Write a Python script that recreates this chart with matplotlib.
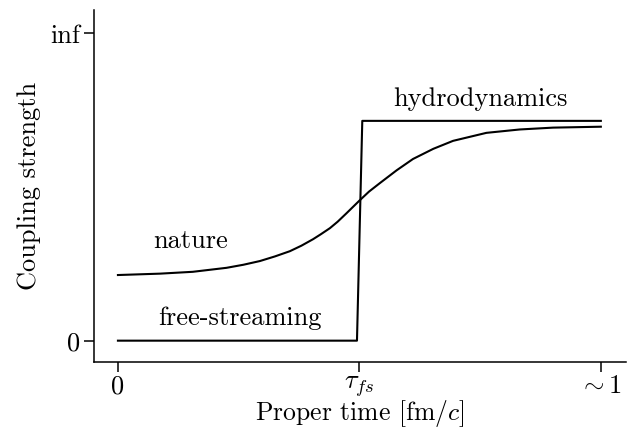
import matplotlib
matplotlib.use('Agg')
import matplotlib.pyplot as plt

plt.rcParams['font.family'] = 'cmr10'
plt.rcParams['mathtext.fontset'] = 'cm'
plt.rcParams['axes.unicode_minus'] = False
plt.rcParams['font.size'] = 19

# curva "nature"
t_nature = [0.0, 0.087, 0.155, 0.225, 0.26, 0.294, 0.325, 0.356, 0.380, 0.404, 0.42, 0.439,
            0.455, 0.473, 0.501, 0.52, 0.542, 0.577, 0.611, 0.653, 0.694, 0.763, 0.832, 0.901, 1.0]
g_nature = [0.2135, 0.218, 0.224, 0.237, 0.247, 0.259, 0.274, 0.291, 0.309, 0.330, 0.346, 0.366,
            0.387, 0.414, 0.457, 0.485, 0.512, 0.554, 0.591, 0.624, 0.650, 0.676, 0.687, 0.693, 0.696]

# caso free-streaming + hidrodinamica
t_fs = [0.0, 0.495, 0.506, 1.0]
g_fs = [0.0, 0.0, 0.715, 0.715]

xticks = [0.0, 0.5, 1.0]
xticklabels = ['0', r'$\tau_{fs}$', r'$\sim 1$']
yticks = [0.0, 1.0]
yticklabels = ['0', 'inf']

fig = plt.figure(figsize=(6.31, 4.30), dpi=100)
ax = fig.add_axes([0.1494, 0.157, 0.8426, 0.82])

ax.plot(t_fs, g_fs, color='k', lw=1.5)
ax.plot(t_nature, g_nature, color='k', lw=1.5, solid_joinstyle='round')

ax.text(0.75, 0.785, 'hydrodynamics', ha='center', va='center')
ax.text(0.151, 0.324, 'nature', ha='center', va='center')
ax.text(0.252, 0.073, 'free-streaming', ha='center', va='center')

ax.set_xlim(-0.049, 1.052)
ax.set_ylim(-0.071, 1.076)
ax.set_xticks(xticks)
ax.set_xticklabels(xticklabels)
ax.set_yticks(yticks)
ax.set_yticklabels(yticklabels)
ax.set_xlabel('Proper time [fm/$c$]', labelpad=-1.2, fontsize=18.5)
ax.set_ylabel('Coupling strength', labelpad=6)

for s in ['top', 'right']:
    ax.spines[s].set_visible(False)
for s in ['left', 'bottom']:
    ax.spines[s].set_linewidth(1.1)
ax.tick_params(length=7, width=1.1)
ax.tick_params(axis='x', pad=1.5)

fig.savefig('out.png', dpi=100)
